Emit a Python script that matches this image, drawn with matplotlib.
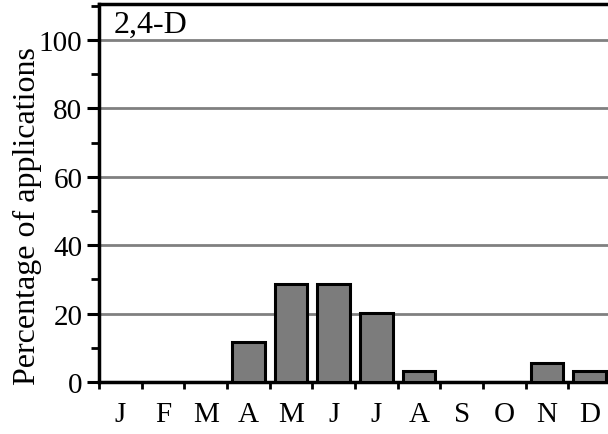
import matplotlib
matplotlib.use("Agg")
import matplotlib.pyplot as plt
from matplotlib.ticker import MultipleLocator, FixedLocator, NullFormatter
import numpy as np

months = ["J", "F", "M", "A", "M", "J", "J", "A", "S", "O", "N", "D"]
percent_applications = [0, 0, 0, 11.8, 28.6, 28.6, 20.3, 3.1, 0, 0, 5.6, 3.1]
herbicide = "2,4-D"
y_label = "Percentage of applications"

plt.rcParams["font.family"] = ["Liberation Serif", "DejaVu Serif"]
FS_TICK = 21
FS_TEXT = 23

W, H = 608, 435
fig = plt.figure(figsize=(W / 100, H / 100), dpi=100)
ax = fig.add_axes([99 / W, (H - 383) / H, (611 - 99) / W, (383 - 5) / H])

x = np.arange(len(months))
ax.bar(x, percent_applications, width=0.76, color="#7c7c7c",
       edgecolor="black", linewidth=2.2, zorder=3)

ax.set_xlim(-0.5, 11.5)
ax.set_ylim(0, 110.5)

ax.yaxis.set_minor_locator(MultipleLocator(10))
ax.set_yticks([0, 20, 40, 60, 80, 100])
ax.grid(axis="y", which="major", color="#808080", linewidth=2, zorder=1)

# month labels centred in slots, tick marks on slot boundaries
ax.xaxis.set_major_locator(FixedLocator(np.arange(-0.5, 12, 1.0)))
ax.xaxis.set_major_formatter(NullFormatter())
ax.xaxis.set_minor_locator(FixedLocator(x))
ax.set_xticklabels(months, minor=True)
ax.tick_params(axis="x", which="major", direction="out", length=5, width=2)
ax.tick_params(axis="x", which="minor", length=0, pad=14, labelsize=FS_TICK)
ax.tick_params(axis="y", which="major", direction="out", length=9, width=2.2,
               labelsize=FS_TICK, pad=3)
ax.tick_params(axis="y", which="minor", direction="out", length=6, width=2)

for side in ("left", "bottom", "top"):
    ax.spines[side].set_linewidth(2.5)
ax.spines["right"].set_visible(False)

ax.set_ylabel(y_label, fontsize=FS_TEXT)
ax.yaxis.set_label_coords(-0.111, 0.442)
ax.text(0.028, 0.985, herbicide, transform=ax.transAxes, fontsize=FS_TEXT,
        ha="left", va="top")

fig.savefig("out.png", dpi=100)
